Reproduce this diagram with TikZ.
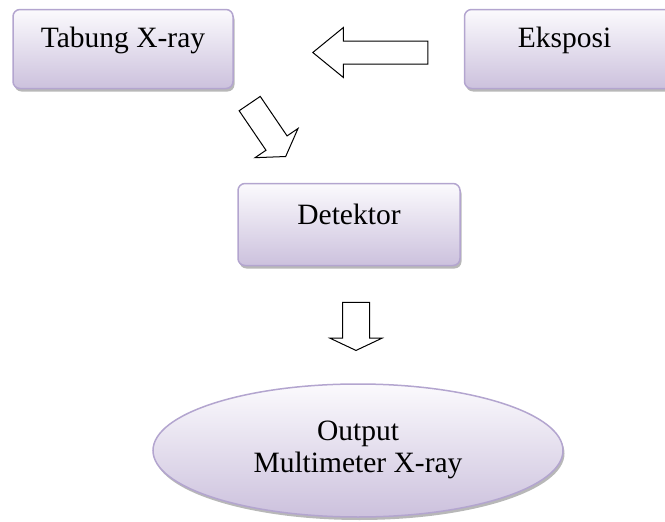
\documentclass[tikz,border=0pt]{standalone}
\usepackage{fontspec}
\setmainfont{Liberation Serif}
\usepackage{tikz}
\usetikzlibrary{positioning}
\usetikzlibrary{shapes.geometric}
\usetikzlibrary{shapes.arrows}
\usetikzlibrary{shadows}
\definecolor{boxline}{HTML}{B3A5CF}
\definecolor{boxtop}{HTML}{FBFAFD}
\definecolor{boxbottom}{HTML}{CCC1DD}
\tikzset{softshadow/.style={drop shadow={shadow xshift=1.5pt,shadow yshift=-3pt,fill=black!35,opacity=0.8}}}
\newcommand{\lifted}[2][0pt]{\raisebox{2pt}[0pt][0pt]{\makebox[0pt]{\hspace*{#1}#2}}}

\begin{document}
\begin{tikzpicture}[x=1pt,y=1pt,
        font=\fontsize{29.5}{34}\selectfont,
        block/.style={draw=boxline,line width=1.5pt,rounded corners=7pt,top color=boxtop,bottom color=boxbottom,
                      softshadow,minimum width=220pt,minimum height=79pt,inner sep=0pt,align=center},
        oval/.style={ellipse,draw=boxline,line width=1.5pt,top color=boxtop,bottom color=boxbottom,
                     softshadow,minimum width=410pt,minimum height=133pt,inner sep=0pt,align=center},
        bigarrow/.style={single arrow,draw,line width=1pt,fill=white,inner xsep=0pt,anchor=tip}]
        \useasboundingbox (0,0) rectangle (665,-522);

        \node (tabung)   [block]                        at (123,-49)  {\lifted{Tabung X-ray}};
        \node (eksposi)  [block,right=230pt of tabung]                {\lifted[-20pt]{Eksposi}};
        \node (detektor) [block,minimum width=222pt,minimum height=82pt] at (349,-224.5) {\lifted[0pt]{\raisebox{-2pt}{Detektor}}};
        \node (output)   [oval,below=117pt of detektor,xshift=9pt,font=\fontsize{29.5}{32}\selectfont]
                                                                      {\\[-14pt]Output\\Multimeter X-ray};

        \node (kiri)   [bigarrow,rotate=180,minimum height=115pt,minimum width=49pt,inner ysep=11pt,
                        single arrow head extend=13.5pt,single arrow tip angle=78.5] at (312,-52.5) {};
        \node (miring) [bigarrow,rotate=-55.8,minimum height=64pt,minimum width=51pt,inner ysep=12.25pt,
                        single arrow head extend=13.25pt,single arrow tip angle=116] at (286,-157) {};
        \node (bawah)  [bigarrow,rotate=-90,minimum height=48pt,minimum width=51pt,inner ysep=13pt,
                        single arrow head extend=12.5pt,single arrow tip angle=129.5] at (356,-351) {};
    \end{tikzpicture}
\end{document}
